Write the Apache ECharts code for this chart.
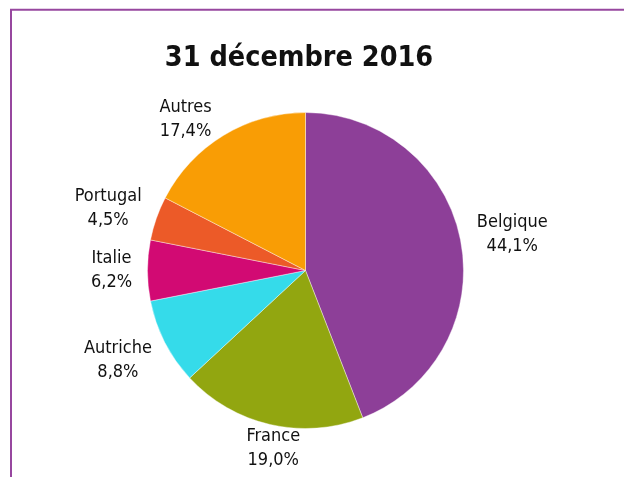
<!DOCTYPE html>
<html>
<head>
<meta charset="utf-8">
<script src="https://cdn.jsdelivr.net/npm/echarts@6/dist/echarts.min.js"></script>
<style>
html,body{margin:0;padding:0;background:#fff;}
#chart{width:624px;height:477px;}
</style>
</head>
<body>
<div id="chart"></div>
<script>
// ---- data ----
const titleText = '31 décembre 2016';
const categories = ['Belgique', 'France', 'Autriche', 'Italie', 'Portugal', 'Autres'];
const values = [44.1, 19.0, 8.8, 6.2, 4.5, 17.4];
const labelTexts = ['44,1%', '19,0%', '8,8%', '6,2%', '4,5%', '17,4%'];

// ---- style ----
const colors = ['#8D3F98', '#92A610', '#35DBEA', '#D20A73', '#EC5A28', '#F99D05'];
const labelDist = [210, 181, 208, 194, 207, 193];        // px from centre to label centre
const labelAngleShift = [0.6, -2.7, 1.4, 0, -1.7, -7.1];  // degrees from slice mid-angle
const CX = 305.5, CY = 270.5, R = 158;
const FONT = "'Liberation Sans Narrow', 'Arial Narrow', 'DejaVu Sans Condensed', sans-serif";

const total = values.reduce((a, b) => a + b, 0);
const midAngles = [];
let acc = 0;
values.forEach(v => { midAngles.push((acc + v / 2) / total * 360); acc += v; });

const chart = echarts.init(document.getElementById('chart'));
chart.setOption({
  animation: false,
  backgroundColor: '#fff',
  title: {
    text: titleText,
    left: 294, top: 39, textAlign: 'center',
    textStyle: { fontFamily: FONT, fontSize: 28.5, fontWeight: 'bold', color: '#111' }
  },
  graphic: [
    { type: 'line', shape: { x1: 10, y1: 9.7, x2: 624, y2: 9.7 }, style: { stroke: '#97479F', lineWidth: 2 } },
    { type: 'line', shape: { x1: 11, y1: 9, x2: 11, y2: 477 }, style: { stroke: '#97479F', lineWidth: 2 } }
  ],
  series: [{
    type: 'pie',
    center: [CX, CY],
    radius: R,
    startAngle: 90,
    clockwise: true,
    avoidLabelOverlap: false,
    itemStyle: { borderColor: '#fff', borderWidth: 0.4 },
    label: {
      show: true,
      position: 'outside',
      formatter: p => p.name + '\n' + labelTexts[p.dataIndex],
      fontFamily: FONT, fontSize: 18, lineHeight: 24, color: '#111', align: 'center'
    },
    labelLine: { show: false },
    labelLayout: function (p) {
      const i = p.dataIndex;
      const a = (midAngles[i] + labelAngleShift[i]) * Math.PI / 180;
      return {
        x: CX + labelDist[i] * Math.sin(a),
        y: CY - labelDist[i] * Math.cos(a),
        align: 'center',
        verticalAlign: 'middle'
      };
    },
    data: categories.map((c, i) => ({ name: c, value: values[i], itemStyle: { color: colors[i] } }))
  }]
});
</script>
</body>
</html>
